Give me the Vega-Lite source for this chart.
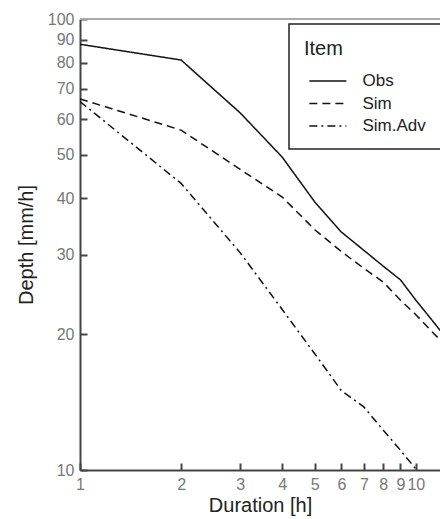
{
  "$schema": "https://vega.github.io/schema/vega-lite/v6.json",
  "autosize": {"type": "none"},
  "padding": {"left": 80, "top": 19, "right": 0, "bottom": 49},
  "width": 360,
  "height": 451,
  "background": "white",
  "config": {
    "view": {"stroke": null},
    "font": "Liberation Sans",
    "axis": {
      "domainColor": "#444",
      "domainWidth": 2,
      "labelColor": "#777",
      "labelFontSize": 16,
      "labelFont": "Liberation Sans",
      "labelFlush": false,
      "labelOverlap": false,
      "labelBound": false,
      "titleFont": "Liberation Sans",
      "titleFontSize": 20,
      "titleFontWeight": "normal",
      "titleColor": "#222"
    },
    "legend": {
      "orient": "none",
      "legendX": 209,
      "legendY": 5,
      "strokeColor": "#222",
      "strokeWidth": 1.5,
      "fillColor": "white",
      "padding": 15,
      "titleFont": "Liberation Sans",
      "titleFontSize": 20,
      "titleFontWeight": "normal",
      "titleColor": "#222",
      "titlePadding": 12,
      "labelFont": "Liberation Sans",
      "labelFontSize": 17,
      "labelColor": "#222",
      "labelOffset": 38.5,
      "rowPadding": 4.5,
      "symbolType": "M-0.5,0H3.5",
      "symbolSize": 342,
      "symbolStrokeWidth": 1.5,
      "symbolStrokeColor": "#111"
    }
  },
  "data": {
    "values": [
      {"Duration": 1, "Depth": 87.9, "Item": "Obs"},
      {"Duration": 2, "Depth": 81.1, "Item": "Obs"},
      {"Duration": 3, "Depth": 61.9, "Item": "Obs"},
      {"Duration": 4, "Depth": 49.4, "Item": "Obs"},
      {"Duration": 5, "Depth": 39.3, "Item": "Obs"},
      {"Duration": 6, "Depth": 33.7, "Item": "Obs"},
      {"Duration": 7, "Depth": 30.7, "Item": "Obs"},
      {"Duration": 8, "Depth": 28.3, "Item": "Obs"},
      {"Duration": 9, "Depth": 26.4, "Item": "Obs"},
      {"Duration": 10, "Depth": 23.8, "Item": "Obs"},
      {"Duration": 11, "Depth": 21.8, "Item": "Obs"},
      {"Duration": 12, "Depth": 20.1, "Item": "Obs"},
      {"Duration": 1, "Depth": 66.5, "Item": "Sim"},
      {"Duration": 2, "Depth": 56.7, "Item": "Sim"},
      {"Duration": 3, "Depth": 46.4, "Item": "Sim"},
      {"Duration": 4, "Depth": 40.3, "Item": "Sim"},
      {"Duration": 5, "Depth": 34.1, "Item": "Sim"},
      {"Duration": 6, "Depth": 30.5, "Item": "Sim"},
      {"Duration": 7, "Depth": 28.0, "Item": "Sim"},
      {"Duration": 8, "Depth": 26.1, "Item": "Sim"},
      {"Duration": 9, "Depth": 23.8, "Item": "Sim"},
      {"Duration": 10, "Depth": 22.1, "Item": "Sim"},
      {"Duration": 11, "Depth": 20.5, "Item": "Sim"},
      {"Duration": 12, "Depth": 19.2, "Item": "Sim"},
      {"Duration": 1, "Depth": 65.6, "Item": "Sim.Adv"},
      {"Duration": 2, "Depth": 43.2, "Item": "Sim.Adv"},
      {"Duration": 3, "Depth": 30.3, "Item": "Sim.Adv"},
      {"Duration": 4, "Depth": 22.7, "Item": "Sim.Adv"},
      {"Duration": 5, "Depth": 18.1, "Item": "Sim.Adv"},
      {"Duration": 6, "Depth": 15.0, "Item": "Sim.Adv"},
      {"Duration": 7, "Depth": 13.8, "Item": "Sim.Adv"},
      {"Duration": 8, "Depth": 12.25, "Item": "Sim.Adv"},
      {"Duration": 9, "Depth": 11.06, "Item": "Sim.Adv"},
      {"Duration": 10, "Depth": 10.05, "Item": "Sim.Adv"}
    ]
  },
  "layer": [
    {
      "mark": {"type": "rule", "color": "#aaa", "strokeWidth": 1},
      "encoding": {
        "x": {
          "datum": 1,
          "type": "quantitative",
          "scale": {"type": "log", "domain": [1, 11.8], "nice": false},
          "axis": {"orient": "bottom", "values": [1, 2, 3, 4, 5, 6, 7, 8, 9, 10], "ticks": false, "grid": true, "gridColor": "#444", "gridWidth": 2, "gridOpacity": 1, "gridDash": [7, 444], "gridDashOffset": 7, "labelPadding": 6, "title": "Duration [h]", "titlePadding": 3}
        },
        "x2": {"datum": 11.8},
        "y": {
          "datum": 100,
          "type": "quantitative",
          "scale": {"type": "log", "domain": [10, 100], "nice": false},
          "axis": {"orient": "left", "values": [10, 20, 30, 40, 50, 60, 70, 80, 90, 100], "ticks": false, "grid": true, "gridColor": "#444", "gridWidth": 2, "gridOpacity": 1, "gridDash": [7, 2000], "labelPadding": 6, "title": "Depth [mm/h]", "titlePadding": 11}
        }
      }
    },
    {
      "mark": {"type": "line", "color": "#111", "strokeWidth": 1.5, "clip": true},
      "encoding": {
        "x": {"field": "Duration", "type": "quantitative", "axis": null},
        "y": {"field": "Depth", "type": "quantitative", "axis": null},
        "strokeDash": {
          "field": "Item",
          "type": "nominal",
          "scale": {"domain": ["Obs", "Sim", "Sim.Adv"], "range": [[1, 0], [8, 5], [8, 4, 2, 4]]},
          "legend": {"title": "Item"}
        }
      }
    }
  ],
  "resolve": {"axis": {"x": "independent", "y": "independent"}}
}
